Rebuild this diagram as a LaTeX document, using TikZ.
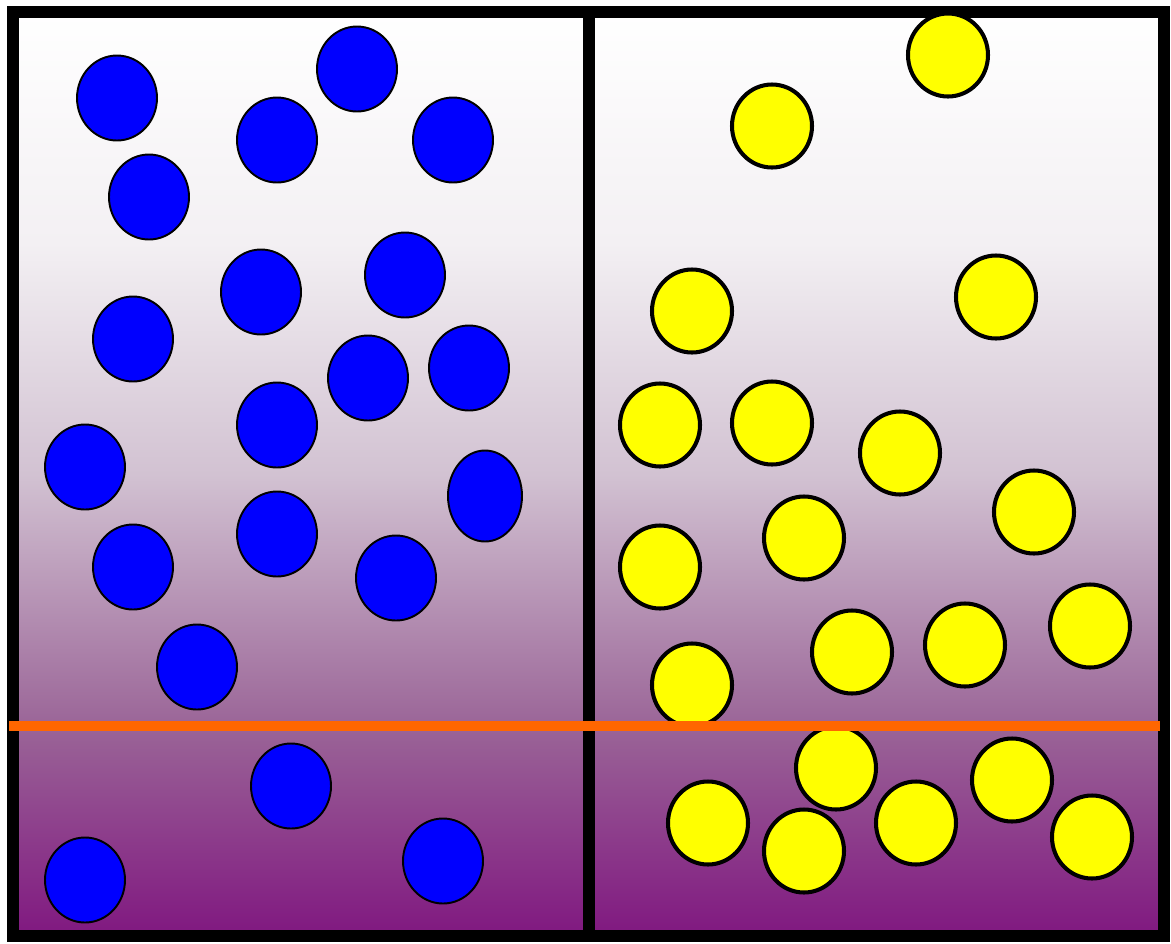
\documentclass[tikz,border=0pt]{standalone}
\usetikzlibrary{calc}
\definecolor{viola}{RGB}{128,24,128}
\definecolor{violaA}{RGB}{154,100,151}
\definecolor{violaB}{RGB}{210,194,210}
\definecolor{violaC}{RGB}{243,240,243}
\definecolor{arancio}{RGB}{255,102,0}
\definecolor{giallo}{RGB}{255,255,0}
\definecolor{blu}{RGB}{0,0,255}
\pgfdeclareverticalshading{sfondo}{100bp}{color(0bp)=(viola); color(25bp)=(viola); color(36.25bp)=(violaA); color(50bp)=(violaB); color(62.5bp)=(violaC); color(75bp)=(white); color(100bp)=(white)}
\tikzset{
  cornice/.style={line width=6.8pt},
  pallablu/.style={fill=blu, draw=black, line width=1.1pt},
  pallagialla/.style={fill=giallo, draw=black, line width=2.3pt},
  livello/.style={arancio, line width=5.7pt}
}
\begin{document}
\begin{tikzpicture}[x=0.02cm, y=-0.02cm]
        \useasboundingbox (0,0) rectangle (1171,944);
        %disegno sfondo
        \shade[shading=sfondo] (13,12) rectangle (1164,936);
        %disegno contenitore
        \draw[cornice] (13,12) rectangle (1164,936);
        \draw[cornice] (589,12)--(589,936);
        %disegno particelle blu
        \foreach \px/\py in {117/98, 357/69, 277/140, 453/140, 149/197, 261/292, 405/275, 133/339, 368/378, 469/368, 277/425, 85/467, 133/567, 277/534, 396/578, 197/667, 291/786, 443/861, 85/880}
            \draw[pallablu] (\px,\py) ellipse [x radius=40, y radius=42.5];
        \draw[pallablu] (485,496) ellipse [x radius=37, y radius=45.5];
        %disegno particelle gialle
        \foreach \px/\py in {948/55, 772/126, 692/311, 996/297, 660/425, 772/423, 900/453, 1034/512, 660/567, 804/538, 852/652, 965/645, 1090/626, 692/685, 836/768, 1012/780, 708/823, 916/823, 804/851, 1092/837}
            \draw[pallagialla] (\px,\py) ellipse [x radius=40, y radius=41.5];
        %disegno livello
        \draw[livello] (9,726)--(1160,726);
    \end{tikzpicture}
\end{document}
